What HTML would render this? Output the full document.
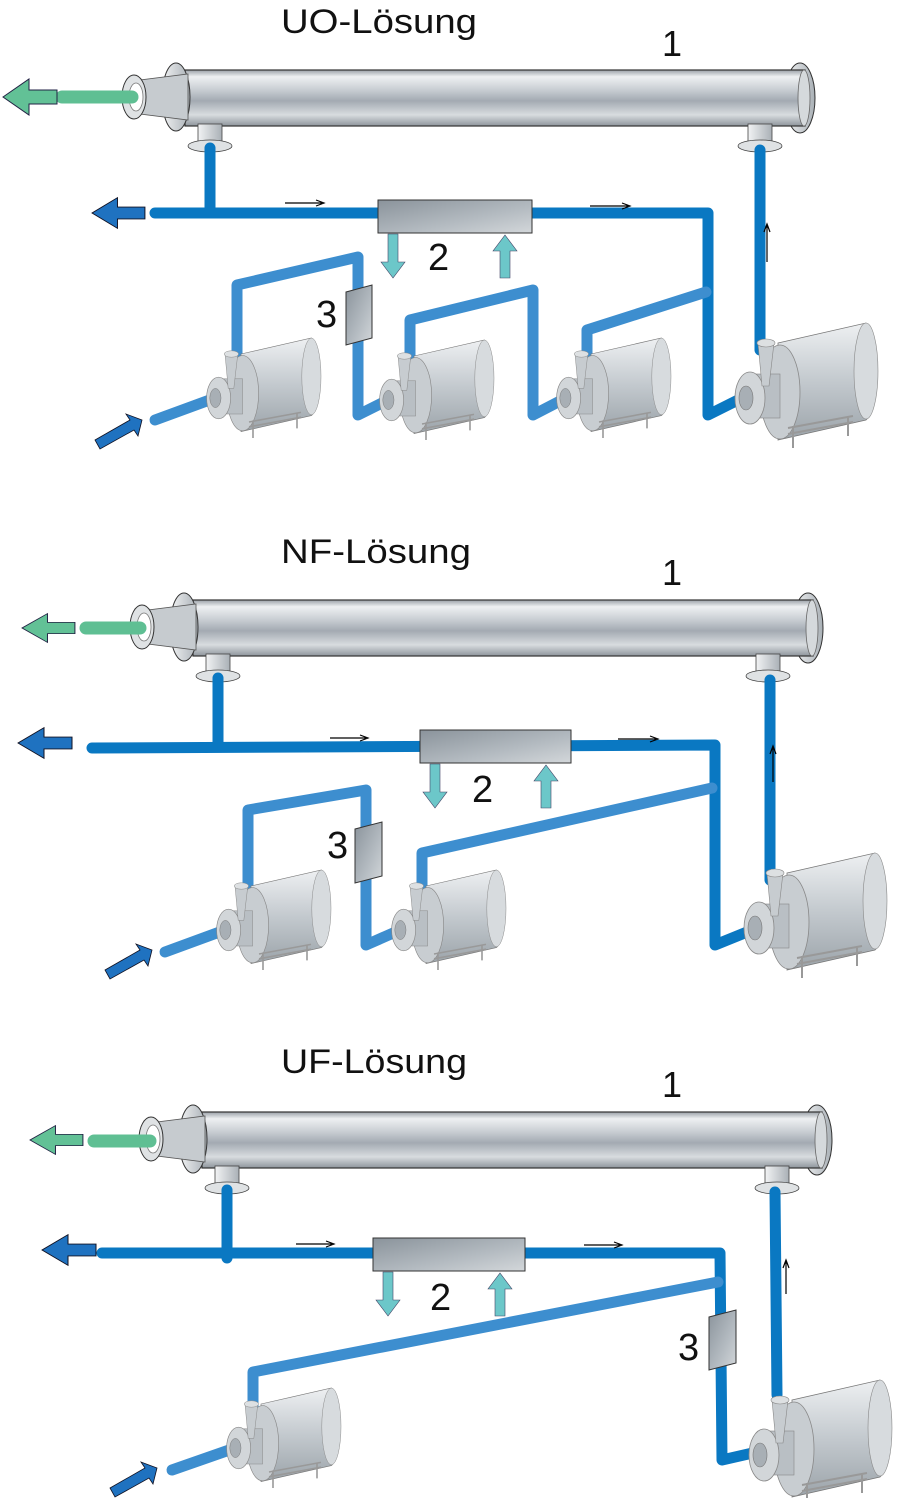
<!DOCTYPE html>
<html><head><meta charset="utf-8"><style>
html,body{margin:0;padding:0;background:#fff}
svg{display:block}
text{font-family:"Liberation Sans",sans-serif;fill:#111}
.n{font-weight:500}
</style></head><body>
<svg width="898" height="1498" viewBox="0 0 898 1498" xmlns="http://www.w3.org/2000/svg">
<defs>
<linearGradient id="tube" x1="0" y1="0" x2="0" y2="1">
<stop offset="0" stop-color="#9aa1a8"/><stop offset="0.12" stop-color="#eef0f2"/><stop offset="0.35" stop-color="#c9ced3"/><stop offset="0.55" stop-color="#a3aab2"/><stop offset="0.8" stop-color="#d8dcdf"/><stop offset="1" stop-color="#8e959c"/>
</linearGradient>
<linearGradient id="flange" x1="0" y1="0" x2="1" y2="0">
<stop offset="0" stop-color="#f2f3f4"/><stop offset="1" stop-color="#a9b0b6"/>
</linearGradient>
<linearGradient id="box" x1="0" y1="0" x2="1" y2="1">
<stop offset="0" stop-color="#8a939b"/><stop offset="0.6" stop-color="#b4bbc1"/><stop offset="1" stop-color="#d3d7da"/>
</linearGradient>
<linearGradient id="motor" x1="0" y1="0" x2="0" y2="1">
<stop offset="0" stop-color="#eef0f2"/><stop offset="0.5" stop-color="#c3c9ce"/><stop offset="1" stop-color="#9ca4aa"/>
</linearGradient>
<g id="membrane">
<ellipse cx="800" cy="98" rx="15" ry="35" fill="url(#flange)" stroke="#333" stroke-width="1"/>
<rect x="185" y="70" width="620" height="56" fill="url(#tube)" stroke="#333" stroke-width="1.2"/>
<ellipse cx="804" cy="98" rx="6" ry="28" fill="#d5d9dc" stroke="#666" stroke-width="0.8"/>
<ellipse cx="176" cy="97" rx="14" ry="34" fill="url(#flange)" stroke="#333" stroke-width="1"/>
<polygon points="188,74 188,120 140,114 140,80" fill="#c6cbcf" stroke="#555" stroke-width="0.8"/>
<ellipse cx="134" cy="97" rx="12" ry="22" fill="#dfe2e4" stroke="#333" stroke-width="1"/>
<ellipse cx="136" cy="97" rx="7" ry="14" fill="#fff" stroke="#777" stroke-width="0.8"/>
<rect x="198" y="124" width="24" height="20" fill="url(#flange)" stroke="#444" stroke-width="0.8"/>
<ellipse cx="210" cy="146" rx="22" ry="6" fill="#dfe2e4" stroke="#444" stroke-width="0.8"/>
<rect x="748" y="124" width="24" height="20" fill="url(#flange)" stroke="#444" stroke-width="0.8"/>
<ellipse cx="760" cy="146" rx="22" ry="6" fill="#dfe2e4" stroke="#444" stroke-width="0.8"/>
</g>
<g id="pump">
<path d="M30,-55 L118,-75 A14,50 0 0 1 118,22 L30,42 Z" fill="url(#motor)" stroke="#777" stroke-width="0.8"/>
<ellipse cx="118" cy="-27" rx="12" ry="48" fill="#d7dbde" stroke="#888" stroke-width="0.6"/>
<ellipse cx="32" cy="-6" rx="20" ry="47" fill="#c8cdd1" stroke="#888" stroke-width="0.8"/>
<rect x="4" y="-24" width="28" height="44" fill="#b9bfc4" stroke="#888" stroke-width="0.6"/>
<ellipse cx="2" cy="0" rx="15" ry="26" fill="#d2d6d9" stroke="#888" stroke-width="0.8"/>
<ellipse cx="-2" cy="0" rx="7" ry="12" fill="#a8afb5" stroke="#777" stroke-width="0.6"/>
<polygon points="10,-55 26,-55 21,-12 14,-12" fill="#c7ccd0" stroke="#888" stroke-width="0.6"/>
<ellipse cx="18" cy="-55" rx="9" ry="4" fill="#dde0e2" stroke="#888" stroke-width="0.6"/>
<path d="M40,30 L105,18 M40,36 L105,24 M45,28 V50 M100,18 V38" stroke="#999" stroke-width="2" fill="none"/>
</g>
<path id="arrL" d="M0,0 L26,-18 L26,-7 L54,-7 L54,7 L26,7 L26,18 Z"/>
</defs>

<!-- ============ SECTION 1 ============ -->
<text x="281" y="33" font-size="34" textLength="196" lengthAdjust="spacingAndGlyphs">UO-Lösung</text>
<text class="n" x="662" y="56" font-size="36">1</text>
<use href="#membrane"/>
<line x1="62" y1="97" x2="132" y2="97" stroke="#5fbf93" stroke-width="13" stroke-linecap="round"/>
<use href="#arrL" transform="translate(3,97)" fill="#62c196" stroke="#224" stroke-width="1"/>
<use href="#arrL" transform="translate(92,213) scale(0.98,0.85)" fill="#1f72c0" stroke="#112" stroke-width="1"/>
<g fill="none" stroke-linejoin="round" stroke-linecap="round" stroke-width="11">
<polyline points="210,148 210,213" stroke="#0a78c2"/>
<polyline points="155,213 708,213 708,415 742,398" stroke="#0a78c2"/>
<polyline points="760,150 760,350" stroke="#0a78c2"/>
<polyline points="155,420 215,398" stroke="#3d8ecf"/>
<polyline points="237,362 237,285 358,257 358,415 388,400" stroke="#3d8ecf"/>
<polyline points="410,362 410,320 533,290 533,415 562,400" stroke="#3d8ecf"/>
<polyline points="587,362 587,330 706,292" stroke="#3d8ecf"/>
</g>
<rect x="378" y="200" width="154" height="33" fill="url(#box)" stroke="#333"/>
<path d="M388,234 V262 H381 L393,278 L405,262 H398 V234 Z" fill="#6cc7c9" stroke="#446" stroke-width="0.6"/>
<path d="M500,278 V251 H493 L505,235 L517,251 H510 V278 Z" fill="#6cc7c9" stroke="#446" stroke-width="0.6"/>
<text class="n" x="428" y="270" font-size="38">2</text>
<polygon points="346,292 372,285 372,338 346,345" fill="url(#box)" stroke="#333"/>
<text class="n" x="316" y="327" font-size="38">3</text>
<path d="M285,203 H322 M316,200 L324,203 L316,206" stroke="#000" stroke-width="1.2" fill="none"/>
<path d="M590,206 H628 M622,203 L630,206 L622,209" stroke="#000" stroke-width="1.2" fill="none"/>
<path d="M767,262 V226 M764,232 L767,224 L770,232" stroke="#000" stroke-width="1.2" fill="none"/>
<use href="#pump" transform="translate(217,398) scale(0.8)"/>
<use href="#pump" transform="translate(390,400) scale(0.8)"/>
<use href="#pump" transform="translate(567,398) scale(0.8)"/>
<use href="#pump" transform="translate(748,398)"/>
<path d="M95,440 L130,420 L126,414 L142,420 L138,436 L134,430 L100,449 Z" fill="#1f72c0" stroke="#112" stroke-width="0.8"/>

<!-- ============ SECTION 2 ============ -->
<text x="281" y="563" font-size="34" textLength="190" lengthAdjust="spacingAndGlyphs">NF-Lösung</text>
<text class="n" x="662" y="585" font-size="36">1</text>
<use href="#membrane" transform="translate(8,530)"/>
<line x1="86" y1="628" x2="140" y2="628" stroke="#5fbf93" stroke-width="13" stroke-linecap="round"/>
<use href="#arrL" transform="translate(22,628) scale(0.98,0.8)" fill="#62c196" stroke="#224" stroke-width="1"/>
<use href="#arrL" transform="translate(18,743) scale(1,0.85)" fill="#1f72c0" stroke="#112" stroke-width="1"/>
<g fill="none" stroke-linejoin="round" stroke-linecap="round" stroke-width="11">
<polyline points="218,678 218,745" stroke="#0a78c2"/>
<polyline points="92,748 715,745 715,945 752,930" stroke="#0a78c2"/>
<polyline points="770,680 770,880" stroke="#0a78c2"/>
<polyline points="165,952 225,930" stroke="#3d8ecf"/>
<polyline points="248,892 248,810 366,790 366,945 400,930" stroke="#3d8ecf"/>
<polyline points="422,892 422,853 712,788" stroke="#3d8ecf"/>
</g>
<rect x="420" y="730" width="151" height="33" fill="url(#box)" stroke="#333"/>
<path d="M430,764 V792 H423 L435,808 L447,792 H440 V764 Z" fill="#6cc7c9" stroke="#446" stroke-width="0.6"/>
<path d="M541,808 V781 H534 L546,765 L558,781 H551 V808 Z" fill="#6cc7c9" stroke="#446" stroke-width="0.6"/>
<text class="n" x="472" y="802" font-size="38">2</text>
<polygon points="355,829 382,822 382,876 355,883" fill="url(#box)" stroke="#333"/>
<text class="n" x="327" y="858" font-size="38">3</text>
<path d="M330,738 H366 M360,735 L368,738 L360,741" stroke="#000" stroke-width="1.2" fill="none"/>
<path d="M618,739 H656 M650,736 L658,739 L650,742" stroke="#000" stroke-width="1.2" fill="none"/>
<path d="M773,782 V748 M770,754 L773,746 L776,754" stroke="#000" stroke-width="1.2" fill="none"/>
<use href="#pump" transform="translate(227,930) scale(0.8)"/>
<use href="#pump" transform="translate(402,930) scale(0.8)"/>
<use href="#pump" transform="translate(757,928)"/>
<path d="M105,970 L140,950 L136,944 L152,950 L148,966 L144,960 L110,979 Z" fill="#1f72c0" stroke="#112" stroke-width="0.8"/>

<!-- ============ SECTION 3 ============ -->
<text x="281" y="1073" font-size="34" textLength="186" lengthAdjust="spacingAndGlyphs">UF-Lösung</text>
<text class="n" x="662" y="1097" font-size="36">1</text>
<use href="#membrane" transform="translate(17,1042)"/>
<line x1="94" y1="1141" x2="150" y2="1141" stroke="#5fbf93" stroke-width="13" stroke-linecap="round"/>
<use href="#arrL" transform="translate(30,1140) scale(0.98,0.8)" fill="#62c196" stroke="#224" stroke-width="1"/>
<use href="#arrL" transform="translate(42,1250) scale(1,0.85)" fill="#1f72c0" stroke="#112" stroke-width="1"/>
<g fill="none" stroke-linejoin="round" stroke-linecap="round" stroke-width="11">
<polyline points="227,1190 227,1258" stroke="#0a78c2"/>
<polyline points="102,1253 720,1253 722,1460 757,1452" stroke="#0a78c2"/>
<polyline points="775,1192 777,1395" stroke="#0a78c2"/>
<polyline points="172,1470 235,1448" stroke="#3d8ecf"/>
<polyline points="253,1418 253,1372 718,1282" stroke="#3d8ecf"/>
</g>
<rect x="373" y="1238" width="152" height="33" fill="url(#box)" stroke="#333"/>
<path d="M383,1272 V1300 H376 L388,1316 L400,1300 H393 V1272 Z" fill="#6cc7c9" stroke="#446" stroke-width="0.6"/>
<path d="M495,1316 V1289 H488 L500,1273 L512,1289 H505 V1316 Z" fill="#6cc7c9" stroke="#446" stroke-width="0.6"/>
<text class="n" x="430" y="1310" font-size="38">2</text>
<polygon points="709,1317 736,1310 736,1363 709,1370" fill="url(#box)" stroke="#333"/>
<text class="n" x="678" y="1360" font-size="38">3</text>
<path d="M296,1244 H332 M326,1241 L334,1244 L326,1247" stroke="#000" stroke-width="1.2" fill="none"/>
<path d="M584,1245 H620 M614,1242 L622,1245 L614,1248" stroke="#000" stroke-width="1.2" fill="none"/>
<path d="M786,1294 V1262 M783,1268 L786,1260 L789,1268" stroke="#000" stroke-width="1.2" fill="none"/>
<use href="#pump" transform="translate(237,1448) scale(0.8)"/>
<use href="#pump" transform="translate(762,1455)"/>
<path d="M110,1488 L145,1468 L141,1462 L157,1468 L153,1484 L149,1478 L115,1497 Z" fill="#1f72c0" stroke="#112" stroke-width="0.8"/>
</svg>
</body></html>
